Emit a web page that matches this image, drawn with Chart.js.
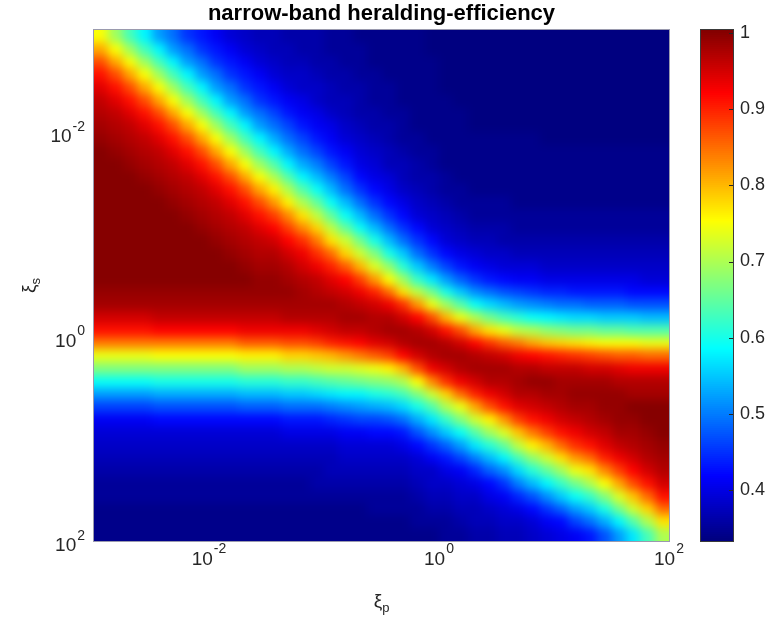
<!DOCTYPE html>
<html>
<head>
<meta charset="utf-8">
<title>narrow-band heralding-efficiency</title>
<script src="https://cdn.jsdelivr.net/npm/chart.js@4.4.1/dist/chart.umd.min.js"></script>
<style>
  body { margin: 0; background: #fff; }
  #wrap { position: relative; width: 767px; height: 624px; }
  #heat { position: absolute; left: 0; top: 0; }
  #cbar { position: absolute; left: 680px; top: 0; }
</style>
</head>
<body>
<div id="wrap">
  <canvas id="heat" width="767" height="624"></canvas>
  <canvas id="cbar" width="87" height="624"></canvas>
</div>
<script>
// --- data ---
const chartTitle = 'narrow-band heralding-efficiency';

// cell edges, log10(xi_p) and log10(xi_s)
const logXiPEdges = [-3, -2.875, -2.75, -2.625, -2.5, -2.375, -2.25, -2.125, -2, -1.875, -1.75, -1.625, -1.5, -1.375, -1.25, -1.125, -1, -0.875, -0.75, -0.625, -0.5, -0.375, -0.25, -0.125, 0, 0.125, 0.25, 0.375, 0.5, 0.625, 0.75, 0.875, 1, 1.125, 1.25, 1.375, 1.5, 1.625, 1.75, 1.875, 2];
const logXiSEdges = [-3, -2.875, -2.75, -2.625, -2.5, -2.375, -2.25, -2.125, -2, -1.875, -1.75, -1.625, -1.5, -1.375, -1.25, -1.125, -1, -0.875, -0.75, -0.625, -0.5, -0.375, -0.25, -0.125, 0, 0.125, 0.25, 0.375, 0.5, 0.625, 0.75, 0.875, 1, 1.125, 1.25, 1.375, 1.5, 1.625, 1.75, 1.875, 2];

// heralding efficiency, one column per xi_p cell, xi_s from small (top) to large (bottom)
const efficiency = [
  [0.75,0.81,0.87,0.91,0.94,0.96,0.97,0.98,0.99,1,1,1,1,1,1,1,1,1,1,1,0.99,0.98,0.95,0.91,0.84,0.74,0.67,0.59,0.52,0.46,0.41,0.39,0.38,0.37,0.36,0.35,0.35,0.34,0.34,0.34],
  [0.69,0.75,0.81,0.87,0.91,0.94,0.96,0.97,0.98,0.99,1,1,1,1,1,1,1,1,1,1,0.99,0.98,0.95,0.91,0.84,0.74,0.67,0.59,0.52,0.46,0.41,0.39,0.38,0.37,0.36,0.35,0.35,0.34,0.34,0.34],
  [0.63,0.69,0.75,0.81,0.87,0.91,0.94,0.96,0.97,0.98,0.99,1,1,1,1,1,1,1,1,1,0.99,0.98,0.95,0.91,0.84,0.74,0.67,0.59,0.52,0.46,0.41,0.39,0.38,0.37,0.36,0.35,0.35,0.34,0.34,0.34],
  [0.58,0.63,0.69,0.75,0.81,0.87,0.91,0.94,0.96,0.97,0.98,0.99,1,1,1,1,1,1,1,1,0.99,0.98,0.95,0.91,0.84,0.74,0.67,0.59,0.52,0.46,0.41,0.39,0.38,0.37,0.36,0.35,0.35,0.34,0.34,0.34],
  [0.52,0.58,0.63,0.69,0.75,0.81,0.87,0.91,0.94,0.96,0.97,0.98,0.99,1,1,1,1,1,1,1,0.99,0.98,0.96,0.92,0.84,0.75,0.67,0.6,0.53,0.47,0.42,0.39,0.38,0.37,0.36,0.35,0.35,0.34,0.34,0.34],
  [0.49,0.52,0.58,0.63,0.69,0.75,0.81,0.87,0.91,0.94,0.96,0.97,0.98,0.99,1,1,1,1,1,1,0.99,0.98,0.96,0.92,0.84,0.75,0.67,0.6,0.53,0.47,0.42,0.39,0.38,0.37,0.36,0.35,0.35,0.34,0.34,0.34],
  [0.45,0.49,0.52,0.58,0.63,0.69,0.75,0.81,0.87,0.91,0.94,0.96,0.97,0.98,0.99,1,1,1,1,1,0.99,0.98,0.96,0.92,0.84,0.75,0.67,0.6,0.53,0.47,0.42,0.39,0.38,0.37,0.36,0.35,0.35,0.34,0.34,0.34],
  [0.43,0.45,0.49,0.52,0.58,0.63,0.69,0.75,0.81,0.87,0.91,0.94,0.96,0.97,0.98,0.99,1,1,1,1,0.99,0.98,0.96,0.92,0.84,0.75,0.67,0.6,0.53,0.47,0.42,0.39,0.38,0.37,0.36,0.35,0.35,0.34,0.34,0.34],
  [0.41,0.43,0.45,0.49,0.52,0.58,0.63,0.69,0.75,0.81,0.87,0.91,0.94,0.96,0.97,0.98,0.99,1,1,1,0.99,0.98,0.96,0.92,0.84,0.75,0.67,0.6,0.53,0.47,0.42,0.39,0.38,0.37,0.36,0.35,0.35,0.34,0.34,0.34],
  [0.39,0.41,0.43,0.45,0.49,0.52,0.58,0.63,0.69,0.75,0.81,0.87,0.91,0.94,0.96,0.97,0.98,0.99,1,1,0.99,0.98,0.96,0.92,0.84,0.75,0.67,0.6,0.53,0.47,0.42,0.39,0.38,0.37,0.36,0.35,0.35,0.34,0.34,0.34],
  [0.38,0.39,0.41,0.43,0.45,0.49,0.52,0.58,0.63,0.69,0.75,0.81,0.87,0.91,0.94,0.96,0.97,0.98,0.99,1,0.99,0.98,0.96,0.93,0.86,0.76,0.69,0.61,0.54,0.48,0.42,0.39,0.38,0.37,0.36,0.35,0.35,0.34,0.34,0.34],
  [0.37,0.38,0.39,0.41,0.43,0.45,0.49,0.52,0.58,0.63,0.69,0.75,0.81,0.87,0.91,0.94,0.96,0.97,0.98,0.99,0.99,0.98,0.96,0.93,0.86,0.76,0.69,0.61,0.54,0.48,0.42,0.39,0.38,0.37,0.36,0.35,0.35,0.34,0.34,0.34],
  [0.37,0.37,0.38,0.39,0.41,0.43,0.46,0.49,0.53,0.58,0.64,0.7,0.76,0.82,0.88,0.92,0.95,0.97,0.98,0.99,0.99,0.98,0.96,0.93,0.86,0.76,0.69,0.61,0.54,0.48,0.42,0.39,0.38,0.37,0.36,0.35,0.35,0.34,0.34,0.34],
  [0.36,0.37,0.37,0.38,0.39,0.41,0.43,0.46,0.49,0.53,0.58,0.64,0.7,0.76,0.83,0.88,0.92,0.95,0.97,0.98,0.99,0.98,0.97,0.93,0.87,0.78,0.7,0.62,0.55,0.49,0.43,0.4,0.38,0.37,0.36,0.35,0.35,0.34,0.34,0.34],
  [0.36,0.36,0.37,0.38,0.38,0.4,0.41,0.43,0.46,0.49,0.53,0.58,0.64,0.7,0.77,0.83,0.89,0.93,0.95,0.97,0.98,0.98,0.97,0.93,0.87,0.78,0.7,0.62,0.55,0.49,0.43,0.4,0.38,0.37,0.36,0.35,0.35,0.34,0.34,0.34],
  [0.36,0.36,0.36,0.37,0.38,0.38,0.4,0.41,0.43,0.46,0.5,0.54,0.59,0.65,0.71,0.78,0.84,0.89,0.93,0.96,0.97,0.98,0.97,0.94,0.88,0.79,0.71,0.63,0.56,0.49,0.43,0.4,0.38,0.37,0.36,0.36,0.35,0.34,0.34,0.34],
  [0.35,0.35,0.36,0.36,0.37,0.37,0.38,0.4,0.41,0.43,0.46,0.5,0.54,0.59,0.65,0.71,0.77,0.85,0.9,0.94,0.96,0.98,0.97,0.95,0.9,0.8,0.72,0.64,0.57,0.5,0.44,0.4,0.38,0.37,0.37,0.36,0.35,0.34,0.34,0.34],
  [0.35,0.35,0.35,0.36,0.36,0.37,0.37,0.38,0.39,0.41,0.43,0.46,0.49,0.54,0.59,0.65,0.72,0.78,0.86,0.92,0.95,0.97,0.98,0.96,0.91,0.82,0.72,0.65,0.58,0.51,0.45,0.41,0.39,0.38,0.37,0.36,0.35,0.34,0.34,0.34],
  [0.34,0.35,0.35,0.35,0.36,0.36,0.36,0.37,0.38,0.39,0.4,0.42,0.45,0.49,0.54,0.59,0.66,0.72,0.8,0.88,0.93,0.96,0.98,0.96,0.92,0.84,0.73,0.66,0.58,0.52,0.46,0.41,0.39,0.38,0.37,0.36,0.35,0.34,0.34,0.34],
  [0.34,0.34,0.34,0.35,0.35,0.35,0.36,0.36,0.37,0.38,0.39,0.4,0.42,0.45,0.49,0.54,0.6,0.67,0.73,0.82,0.9,0.95,0.97,0.97,0.94,0.86,0.74,0.67,0.6,0.53,0.46,0.42,0.39,0.38,0.37,0.36,0.35,0.35,0.34,0.34],
  [0.34,0.34,0.34,0.34,0.35,0.35,0.35,0.36,0.36,0.37,0.37,0.39,0.4,0.42,0.45,0.49,0.54,0.6,0.68,0.75,0.85,0.93,0.97,0.98,0.95,0.88,0.76,0.68,0.61,0.54,0.47,0.42,0.39,0.38,0.37,0.36,0.35,0.35,0.34,0.34],
  [0.34,0.34,0.34,0.34,0.34,0.34,0.35,0.35,0.35,0.36,0.37,0.37,0.38,0.4,0.42,0.45,0.49,0.55,0.61,0.69,0.77,0.89,0.95,0.98,0.97,0.92,0.8,0.7,0.63,0.56,0.49,0.43,0.4,0.38,0.37,0.36,0.35,0.35,0.34,0.34],
  [0.34,0.34,0.34,0.34,0.34,0.34,0.34,0.34,0.35,0.35,0.36,0.36,0.37,0.38,0.39,0.42,0.45,0.49,0.55,0.62,0.71,0.82,0.92,0.97,0.98,0.95,0.87,0.75,0.67,0.6,0.53,0.47,0.42,0.39,0.38,0.37,0.36,0.35,0.35,0.34],
  [0.33,0.33,0.34,0.34,0.34,0.34,0.34,0.34,0.34,0.35,0.35,0.36,0.36,0.37,0.38,0.39,0.42,0.45,0.5,0.57,0.66,0.74,0.87,0.95,0.98,0.97,0.93,0.83,0.72,0.64,0.57,0.51,0.45,0.41,0.38,0.38,0.37,0.36,0.35,0.34],
  [0.33,0.33,0.33,0.33,0.33,0.34,0.34,0.34,0.34,0.34,0.34,0.35,0.35,0.36,0.37,0.38,0.39,0.42,0.46,0.52,0.6,0.69,0.8,0.91,0.97,0.98,0.95,0.89,0.78,0.7,0.62,0.55,0.48,0.43,0.4,0.38,0.37,0.36,0.35,0.35],
  [0.33,0.33,0.33,0.33,0.33,0.33,0.34,0.34,0.34,0.34,0.34,0.34,0.35,0.35,0.36,0.37,0.38,0.4,0.43,0.48,0.55,0.64,0.74,0.87,0.95,0.98,0.97,0.93,0.85,0.74,0.67,0.59,0.52,0.46,0.41,0.39,0.38,0.37,0.36,0.35],
  [0.33,0.33,0.33,0.33,0.33,0.33,0.33,0.33,0.34,0.34,0.34,0.34,0.34,0.35,0.35,0.36,0.37,0.39,0.41,0.45,0.51,0.59,0.7,0.81,0.92,0.97,0.98,0.95,0.9,0.81,0.72,0.64,0.57,0.5,0.44,0.4,0.38,0.37,0.37,0.36],
  [0.33,0.33,0.33,0.33,0.33,0.33,0.33,0.33,0.34,0.34,0.34,0.34,0.34,0.35,0.35,0.36,0.37,0.38,0.4,0.43,0.49,0.56,0.66,0.77,0.89,0.96,0.98,0.97,0.93,0.87,0.76,0.69,0.61,0.54,0.48,0.42,0.4,0.38,0.37,0.36],
  [0.33,0.33,0.33,0.33,0.33,0.33,0.33,0.33,0.34,0.34,0.34,0.34,0.34,0.35,0.35,0.36,0.36,0.38,0.39,0.42,0.47,0.54,0.63,0.74,0.86,0.95,0.98,0.97,0.95,0.91,0.82,0.73,0.65,0.58,0.51,0.45,0.41,0.39,0.38,0.37],
  [0.33,0.33,0.33,0.33,0.33,0.33,0.33,0.33,0.34,0.34,0.34,0.34,0.34,0.34,0.35,0.35,0.36,0.37,0.39,0.41,0.46,0.52,0.61,0.71,0.84,0.93,0.97,0.98,0.97,0.94,0.88,0.79,0.71,0.63,0.56,0.5,0.44,0.4,0.38,0.37],
  [0.33,0.33,0.33,0.33,0.33,0.33,0.33,0.33,0.34,0.34,0.34,0.34,0.34,0.34,0.35,0.35,0.36,0.37,0.39,0.41,0.45,0.51,0.59,0.7,0.81,0.92,0.97,0.99,0.97,0.95,0.91,0.84,0.76,0.68,0.61,0.54,0.47,0.42,0.39,0.38],
  [0.33,0.33,0.33,0.33,0.33,0.33,0.33,0.33,0.33,0.34,0.34,0.34,0.34,0.34,0.35,0.35,0.36,0.37,0.38,0.4,0.44,0.5,0.58,0.68,0.79,0.91,0.96,0.99,0.98,0.96,0.93,0.88,0.8,0.72,0.65,0.58,0.51,0.45,0.41,0.39],
  [0.33,0.33,0.33,0.33,0.33,0.33,0.33,0.33,0.33,0.34,0.34,0.34,0.34,0.34,0.35,0.35,0.36,0.37,0.38,0.4,0.44,0.49,0.57,0.67,0.78,0.9,0.96,0.98,0.98,0.97,0.95,0.91,0.85,0.77,0.69,0.62,0.55,0.48,0.42,0.4],
  [0.33,0.33,0.33,0.33,0.33,0.33,0.33,0.33,0.33,0.34,0.34,0.34,0.34,0.34,0.35,0.35,0.36,0.37,0.38,0.4,0.43,0.49,0.56,0.66,0.77,0.89,0.96,0.98,0.99,0.98,0.96,0.93,0.89,0.82,0.74,0.66,0.59,0.52,0.46,0.41],
  [0.33,0.33,0.33,0.33,0.33,0.33,0.33,0.33,0.33,0.34,0.34,0.34,0.34,0.34,0.35,0.35,0.36,0.37,0.38,0.4,0.43,0.48,0.56,0.66,0.76,0.88,0.95,0.98,0.99,0.98,0.97,0.95,0.91,0.85,0.77,0.7,0.62,0.55,0.49,0.43],
  [0.33,0.33,0.33,0.33,0.33,0.33,0.33,0.33,0.33,0.34,0.34,0.34,0.34,0.34,0.35,0.35,0.36,0.37,0.38,0.4,0.43,0.48,0.55,0.65,0.75,0.87,0.95,0.98,0.99,0.99,0.98,0.96,0.94,0.9,0.83,0.75,0.67,0.6,0.53,0.47],
  [0.33,0.33,0.33,0.33,0.33,0.33,0.33,0.33,0.33,0.34,0.34,0.34,0.34,0.34,0.35,0.35,0.36,0.37,0.38,0.4,0.43,0.48,0.55,0.65,0.75,0.86,0.94,0.97,0.99,0.99,0.99,0.98,0.96,0.93,0.88,0.81,0.73,0.66,0.58,0.52],
  [0.33,0.33,0.33,0.33,0.33,0.33,0.33,0.33,0.33,0.34,0.34,0.34,0.34,0.34,0.35,0.35,0.36,0.37,0.38,0.4,0.42,0.47,0.55,0.64,0.75,0.86,0.93,0.97,0.98,1,0.99,0.98,0.97,0.95,0.92,0.87,0.79,0.72,0.64,0.57],
  [0.33,0.33,0.33,0.33,0.33,0.33,0.33,0.33,0.33,0.34,0.34,0.34,0.34,0.34,0.35,0.35,0.36,0.37,0.38,0.39,0.42,0.47,0.54,0.64,0.74,0.85,0.93,0.97,0.98,1,1,0.99,0.98,0.97,0.95,0.91,0.85,0.78,0.7,0.63],
  [0.33,0.33,0.33,0.33,0.33,0.33,0.33,0.33,0.33,0.34,0.34,0.34,0.34,0.34,0.35,0.35,0.36,0.37,0.38,0.39,0.42,0.47,0.54,0.64,0.74,0.85,0.93,0.97,0.98,1,1,1,0.99,0.98,0.97,0.95,0.91,0.85,0.77,0.7]
];

const xiPTicks = [1e-2, 1, 1e2];
const xiPTickExponents = ['-2', '0', '2'];
const xiSTicks = [1e-2, 1, 1e2];
const xiSTickExponents = ['-2', '0', '2'];
const colorLimits = [0.333, 1.004];
const colorbarTicks = [0.4, 0.5, 0.6, 0.7, 0.8, 0.9, 1];

// --- look ---
const FONT = '"Liberation Sans", Arial, Helvetica, sans-serif';
const TEXT = '#262626';

function jet(v) {
  const t = Math.min(1, Math.max(0, (v - colorLimits[0]) / (colorLimits[1] - colorLimits[0])));
  const c = k => Math.round(255 * Math.min(1, Math.max(0, 1.5 - Math.abs(4 * t - k))));
  return `rgb(${c(3)},${c(2)},${c(1)})`;
}

// cells are painted off-screen through the log scales, then laid on the plot
// with a light blur so the cell steps read like the smooth image
const heatmap = {
  id: 'heatmap',
  beforeDatasetsDraw(chart, args, opts) {
    const { ctx, chartArea: a, scales: { x, y } } = chart;
    const xs = logXiPEdges.map(e => Math.round(x.getPixelForValue(Math.pow(10, e))));
    const ys = logXiSEdges.map(e => Math.round(y.getPixelForValue(Math.pow(10, e))));
    // outer cells run past the frame so the blur has colour to pull in at the edges
    xs[0] -= 30; xs[xs.length - 1] += 30;
    ys[0] -= 30; ys[ys.length - 1] += 30;

    const off = document.createElement('canvas');
    off.width = chart.width;
    off.height = chart.height;
    const octx = off.getContext('2d');
    efficiency.forEach((col, i) => {
      col.forEach((v, j) => {
        octx.fillStyle = jet(v);
        octx.fillRect(xs[i], ys[j], xs[i + 1] - xs[i], ys[j + 1] - ys[j]);
      });
    });

    ctx.save();
    ctx.beginPath();
    ctx.rect(a.left, a.top, a.width, a.height);
    ctx.clip();
    ctx.filter = `blur(${opts.blur}px)`;
    ctx.drawImage(off, 0, 0);
    ctx.restore();
  }
};

const frame = {
  id: 'frame',
  afterDraw(chart, args, opts) {
    const { ctx, chartArea: a } = chart;
    ctx.save();
    ctx.strokeStyle = opts.color;
    ctx.lineWidth = 1;
    ctx.strokeRect(a.left - 0.5, a.top - 0.5, a.width + 1, a.height + 1);
    ctx.restore();
  }
};

function drawPower(ctx, exp, x, baseline, align) {
  ctx.font = `19px ${FONT}`;
  const wb = ctx.measureText('10').width;
  ctx.font = `14px ${FONT}`;
  const we = ctx.measureText(exp).width;
  const w = wb + 1 + we;
  const x0 = align === 'center' ? x - w / 2 : x - w;
  ctx.font = `19px ${FONT}`;
  ctx.fillText('10', x0, baseline);
  ctx.font = `14px ${FONT}`;
  ctx.fillText(exp, x0 + wb + 1, baseline - 11.5);
}

// MATLAB style 10^n labels at the ticks the log scales carry
const powerTicks = {
  id: 'powerTicks',
  afterDraw(chart) {
    const { ctx, chartArea: a, scales: { x, y } } = chart;
    ctx.save();
    ctx.fillStyle = TEXT;
    ctx.textAlign = 'left';
    ctx.textBaseline = 'alphabetic';
    x.ticks.forEach((t, i) => {
      drawPower(ctx, xiPTickExponents[i], x.getPixelForValue(t.value), a.bottom + 23.5, 'center');
    });
    y.ticks.forEach((t, i) => {
      drawPower(ctx, xiSTickExponents[i], a.left - 9, y.getPixelForValue(t.value) + 10, 'right');
    });
    ctx.restore();
  }
};

function drawSubscripted(ctx, base, sub, cx, cy) {
  ctx.font = `19px ${FONT}`;
  const wb = ctx.measureText(base).width;
  ctx.font = `13px ${FONT}`;
  const ws = ctx.measureText(sub).width;
  const x0 = cx - (wb + ws) / 2;
  ctx.textAlign = 'left';
  ctx.textBaseline = 'middle';
  ctx.font = `19px ${FONT}`;
  ctx.fillText(base, x0, cy);
  ctx.font = `13px ${FONT}`;
  ctx.fillText(sub, x0 + wb, cy + 6);
}

const axisTitles = {
  id: 'axisTitles',
  afterDraw(chart) {
    const { ctx, chartArea: a } = chart;
    ctx.save();
    ctx.fillStyle = TEXT;
    drawSubscripted(ctx, '\u03BE', 'p', (a.left + a.right) / 2, 602);
    ctx.translate(30, (a.top + a.bottom) / 2);
    ctx.rotate(-Math.PI / 2);
    drawSubscripted(ctx, '\u03BE', 's', 0, 0);
    ctx.restore();
  }
};

new Chart(document.getElementById('heat'), {
  type: 'scatter',
  data: { datasets: [] },
  options: {
    responsive: false,
    animation: false,
    events: [],
    layout: { padding: { left: 0, right: 98, top: 0, bottom: 0 } },
    plugins: {
      legend: { display: false },
      tooltip: { enabled: false },
      title: {
        display: true,
        text: chartTitle,
        fullSize: false,
        color: '#000',
        font: { family: FONT, size: 22, weight: 'bold' },
        padding: { top: 1, bottom: 2.6 }
      },
      heatmap: { blur: 5 },
      frame: { color: '#9a9aae' }
    },
    scales: {
      x: {
        type: 'logarithmic',
        min: 1e-3,
        max: 1e2,
        afterBuildTicks: s => { s.ticks = xiPTicks.map(v => ({ value: v })); },
        afterFit: s => { s.height = 83; },
        grid: { display: false, drawTicks: false },
        border: { display: false },
        ticks: { display: false }
      },
      y: {
        type: 'logarithmic',
        reverse: true,
        min: 1e-3,
        max: 1e2,
        afterBuildTicks: s => { s.ticks = xiSTicks.map(v => ({ value: v })); },
        afterFit: s => { s.width = 94; },
        grid: { display: false, drawTicks: false },
        border: { display: false },
        ticks: { display: false }
      }
    }
  },
  plugins: [heatmap, frame, powerTicks, axisTitles]
});

// --- colorbar: the jet scale split into thin slices ---
const slices = [];
for (let k = 0; k < 256; k++) {
  const lo = colorLimits[0] + (colorLimits[1] - colorLimits[0]) * k / 256;
  const hi = colorLimits[0] + (colorLimits[1] - colorLimits[0]) * (k + 1) / 256;
  slices.push([lo, hi]);
}

const inwardTicks = {
  id: 'inwardTicks',
  afterDraw(chart) {
    const { ctx, chartArea: a, scales: { y } } = chart;
    ctx.save();
    ctx.strokeStyle = TEXT;
    ctx.lineWidth = 1;
    y.ticks.forEach(t => {
      const py = Math.round(y.getPixelForValue(t.value)) + 0.5;
      ctx.beginPath();
      ctx.moveTo(a.right - 4, py);
      ctx.lineTo(a.right, py);
      ctx.stroke();
    });
    ctx.restore();
  }
};

new Chart(document.getElementById('cbar'), {
  type: 'bar',
  data: {
    labels: [''],
    datasets: slices.map(s => ({
      data: [s],
      backgroundColor: jet((s[0] + s[1]) / 2),
      borderWidth: 0,
      inflateAmount: 1,
      grouped: false,
      barPercentage: 1,
      categoryPercentage: 1
    }))
  },
  options: {
    responsive: false,
    animation: false,
    events: [],
    layout: { padding: { left: 21, right: 0, top: 30, bottom: 83 } },
    plugins: {
      legend: { display: false },
      tooltip: { enabled: false },
      frame: { color: '#3a3a3a' }
    },
    scales: {
      x: { display: false },
      y: {
        position: 'right',
        min: colorLimits[0],
        max: colorLimits[1],
        afterBuildTicks: s => { s.ticks = colorbarTicks.map(v => ({ value: v })); },
        afterFit: s => { s.width = 34; },
        grid: { display: false, drawTicks: false },
        border: { display: false },
        ticks: {
          callback: v => String(+v.toFixed(1)),
          color: TEXT,
          font: { family: FONT, size: 18 },
          padding: 7
        }
      }
    }
  },
  plugins: [frame, inwardTicks]
});
</script>
</body>
</html>
